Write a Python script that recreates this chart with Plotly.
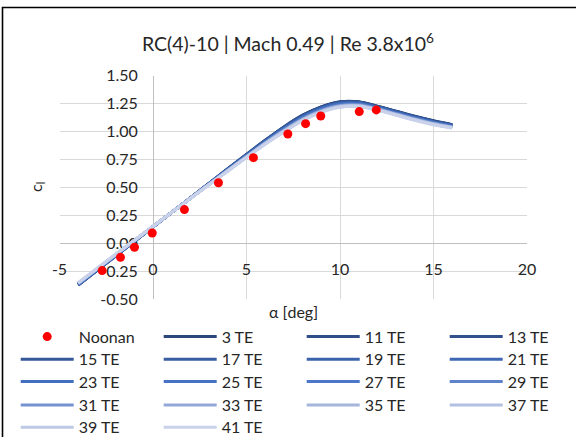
import plotly.graph_objects as go

# ---- data -------------------------------------------------------------
noonan_alpha = [-2.72, -1.74, -0.99, -0.04, 1.68, 3.50, 5.37, 7.21, 8.16, 8.97, 11.03, 11.94]
noonan_cl = [-0.246, -0.127, -0.037, 0.091, 0.300, 0.540, 0.765, 0.977, 1.069, 1.138, 1.177, 1.192]

alpha = [-4, -2, 0, 2, 4, 6, 7, 8, 9, 10, 11, 12, 13, 14, 15, 16]

te_names = ["3 TE", "11 TE", "13 TE", "15 TE", "17 TE", "19 TE", "21 TE", "23 TE", "25 TE",
            "27 TE", "29 TE", "31 TE", "33 TE", "35 TE", "37 TE", "39 TE", "41 TE"]

cl_3 = [-0.375, -0.115, 0.145, 0.405, 0.665, 0.920, 1.040, 1.145, 1.220, 1.265, 1.265, 1.225, 1.180, 1.135, 1.095, 1.060]
cl_11 = [-0.374, -0.114, 0.145, 0.405, 0.664, 0.918, 1.038, 1.143, 1.218, 1.263, 1.263, 1.223, 1.178, 1.133, 1.093, 1.059]
cl_13 = [-0.373, -0.114, 0.146, 0.405, 0.663, 0.917, 1.036, 1.140, 1.215, 1.260, 1.261, 1.222, 1.177, 1.132, 1.092, 1.057]
cl_15 = [-0.372, -0.113, 0.146, 0.404, 0.662, 0.914, 1.033, 1.137, 1.212, 1.257, 1.258, 1.219, 1.174, 1.129, 1.089, 1.055]
cl_17 = [-0.371, -0.112, 0.146, 0.404, 0.661, 0.912, 1.030, 1.134, 1.209, 1.254, 1.256, 1.217, 1.172, 1.127, 1.087, 1.053]
cl_19 = [-0.369, -0.111, 0.146, 0.404, 0.659, 0.910, 1.027, 1.131, 1.206, 1.251, 1.253, 1.215, 1.170, 1.125, 1.085, 1.052]
cl_21 = [-0.368, -0.110, 0.147, 0.403, 0.658, 0.908, 1.024, 1.128, 1.203, 1.248, 1.250, 1.213, 1.168, 1.123, 1.083, 1.050]
cl_23 = [-0.367, -0.109, 0.147, 0.403, 0.657, 0.905, 1.021, 1.124, 1.199, 1.244, 1.247, 1.210, 1.165, 1.120, 1.080, 1.047]
cl_25 = [-0.365, -0.108, 0.147, 0.403, 0.655, 0.903, 1.018, 1.121, 1.196, 1.241, 1.244, 1.208, 1.163, 1.118, 1.078, 1.045]
cl_27 = [-0.364, -0.107, 0.148, 0.402, 0.654, 0.900, 1.015, 1.117, 1.192, 1.237, 1.241, 1.205, 1.160, 1.115, 1.075, 1.043]
cl_29 = [-0.362, -0.106, 0.148, 0.402, 0.652, 0.898, 1.012, 1.114, 1.189, 1.234, 1.238, 1.203, 1.158, 1.113, 1.073, 1.041]
cl_31 = [-0.361, -0.105, 0.149, 0.402, 0.651, 0.896, 1.009, 1.110, 1.185, 1.230, 1.235, 1.201, 1.156, 1.111, 1.071, 1.039]
cl_33 = [-0.360, -0.103, 0.149, 0.401, 0.650, 0.893, 1.005, 1.107, 1.182, 1.227, 1.232, 1.198, 1.153, 1.108, 1.068, 1.037]
cl_35 = [-0.358, -0.103, 0.149, 0.401, 0.648, 0.891, 1.003, 1.104, 1.179, 1.224, 1.229, 1.196, 1.151, 1.106, 1.066, 1.035]
cl_37 = [-0.357, -0.102, 0.149, 0.401, 0.647, 0.889, 1.000, 1.101, 1.176, 1.221, 1.227, 1.194, 1.149, 1.104, 1.064, 1.033]
cl_39 = [-0.356, -0.101, 0.150, 0.400, 0.646, 0.887, 0.997, 1.098, 1.173, 1.218, 1.224, 1.192, 1.147, 1.102, 1.062, 1.032]
cl_41 = [-0.355, -0.100, 0.150, 0.400, 0.645, 0.885, 0.995, 1.095, 1.170, 1.215, 1.222, 1.190, 1.145, 1.100, 1.060, 1.030]

te_series = [cl_3, cl_11, cl_13, cl_15, cl_17, cl_19, cl_21, cl_23, cl_25,
             cl_27, cl_29, cl_31, cl_33, cl_35, cl_37, cl_39, cl_41]

te_colors = ["#2C477C", "#2F4D86", "#31518D", "#345898", "#385EA2", "#3B63AB", "#3E68B3",
             "#4270BE", "#4673C3", "#4B77C6", "#5F82C9", "#7692D0", "#93A8D7", "#A5B5DC",
             "#B2C0E1", "#BEC9E6", "#C9D2EA"]

x_ticks = [-5, 0, 5, 10, 15, 20]
x_tick_text = ["-5", "0", "5", "10", "15", "20"]
y_ticks = [-0.5, -0.25, 0.0, 0.25, 0.5, 0.75, 1.0, 1.25, 1.5]
y_tick_text = ["-0.50", "-0.25", "0.00", "0.25", "0.50", "0.75", "1.00", "1.25", "1.50"]

# ---- page geometry (pixels) -------------------------------------------
W, H = 576, 437
PX_L, PX_R, PX_T, PX_B = 59.5, 527.0, 75.5, 299.0
X_RANGE = [-5, 20]
Y_RANGE = [-0.5, 1.5]
FONT = "Lato"
FS = 16
TXT = "#262626"
AXIS_GREY = "#BFBFBF"

xdom = [PX_L / W, PX_R / W]
ydom = [1 - PX_B / H, 1 - PX_T / H]
# axes cross at the origin
x_axis_pos = ydom[0] + (0 - Y_RANGE[0]) / (Y_RANGE[1] - Y_RANGE[0]) * (ydom[1] - ydom[0])
y_axis_pos = xdom[0] + (0 - X_RANGE[0]) / (X_RANGE[1] - X_RANGE[0]) * (xdom[1] - xdom[0])

fig = go.Figure()

# legend rows: 4 entries per row
rows = [["Noonan"] + te_names[0:3], te_names[3:7], te_names[7:11], te_names[11:15], te_names[15:17]]
legend_of = {}
for i, row in enumerate(rows):
    lid = "legend" if i == 0 else f"legend{i + 1}"
    for name in row:
        legend_of[name] = lid

for name, ys, col in zip(te_names, te_series, te_colors):
    fig.add_trace(go.Scatter(
        x=alpha, y=ys, name=name, mode="lines",
        line=dict(color=col, width=3, shape="spline", smoothing=0.8),
        legend=legend_of[name], hoverinfo="skip",
    ))

fig.add_trace(go.Scatter(
    x=noonan_alpha, y=noonan_cl, name="Noonan", mode="markers",
    marker=dict(color="#FF0000", size=9, line=dict(width=0)),
    legend=legend_of["Noonan"], legendrank=1,
))

axis_common = dict(
    showgrid=True, gridcolor="#D9D9D9", gridwidth=1,
    zeroline=False, showline=True, linecolor=AXIS_GREY, linewidth=1,
    ticks="outside", tickcolor="rgba(0,0,0,0)", tickmode="array",
    tickfont=dict(family=FONT, size=FS, color=TXT), ticklabeloverflow="allow",
    layer="below traces", fixedrange=True,
)

ROW_Y = [336.7, 359.3, 381.7, 405.0, 427.3]
ITEM_W = 53
ENTRY_W = 75
LEG_X = 15.7

legends = {}
for i, y in enumerate(ROW_Y):
    lid = "legend" if i == 0 else f"legend{i + 1}"
    legends[lid] = dict(
        orientation="h", x=LEG_X / W, xanchor="left", y=1 - y / H, yanchor="middle",
        itemwidth=ITEM_W, entrywidth=ENTRY_W, entrywidthmode="pixels",
        font=dict(family=FONT, size=FS, color=TXT),
        bgcolor="rgba(0,0,0,0)", borderwidth=0, traceorder="normal",
        itemclick=False, itemdoubleclick=False,
    )

fig.update_layout(
    width=W, height=H,
    margin=dict(l=0, r=0, t=0, b=0, autoexpand=False),
    paper_bgcolor="white", plot_bgcolor="white",
    font=dict(family=FONT, size=FS, color=TXT),
    showlegend=True,
    xaxis=dict(axis_common, domain=xdom, range=X_RANGE, tickvals=x_ticks, ticktext=x_tick_text,
               anchor="free", position=x_axis_pos, ticklen=12),
    yaxis=dict(axis_common, domain=ydom, range=Y_RANGE, tickvals=y_ticks, ticktext=y_tick_text,
               anchor="free", position=y_axis_pos, ticklen=12),
    annotations=[
        dict(text="RC(4)-10 | Mach 0.49 | Re 3.8x10<sup>6</sup>", x=0.5, y=1 - 42 / H,
             xref="paper", yref="paper", showarrow=False, xanchor="center", yanchor="middle",
             font=dict(family=FONT, size=19.5, color=TXT)),
        dict(text="α [deg]", x=(xdom[0] + xdom[1]) / 2, y=1 - 311 / H,
             xref="paper", yref="paper", showarrow=False, xanchor="center", yanchor="middle",
             font=dict(family=FONT, size=FS, color=TXT)),
        dict(text="c<sub>l</sub>", x=36 / W, y=1 - 187 / H, textangle=-90,
             xref="paper", yref="paper", showarrow=False, xanchor="center", yanchor="middle",
             font=dict(family=FONT, size=FS, color=TXT)),
    ],
    shapes=[
        dict(type="rect", xref="paper", yref="paper", x0=2.5 / W, x1=1.05,
             y0=-0.05, y1=1 - 7.5 / H, line=dict(color="#000000", width=1.6),
             fillcolor="rgba(0,0,0,0)", layer="above"),
    ],
    **legends,
)

fig.write_html("out.html", config={"displayModeBar": False})
